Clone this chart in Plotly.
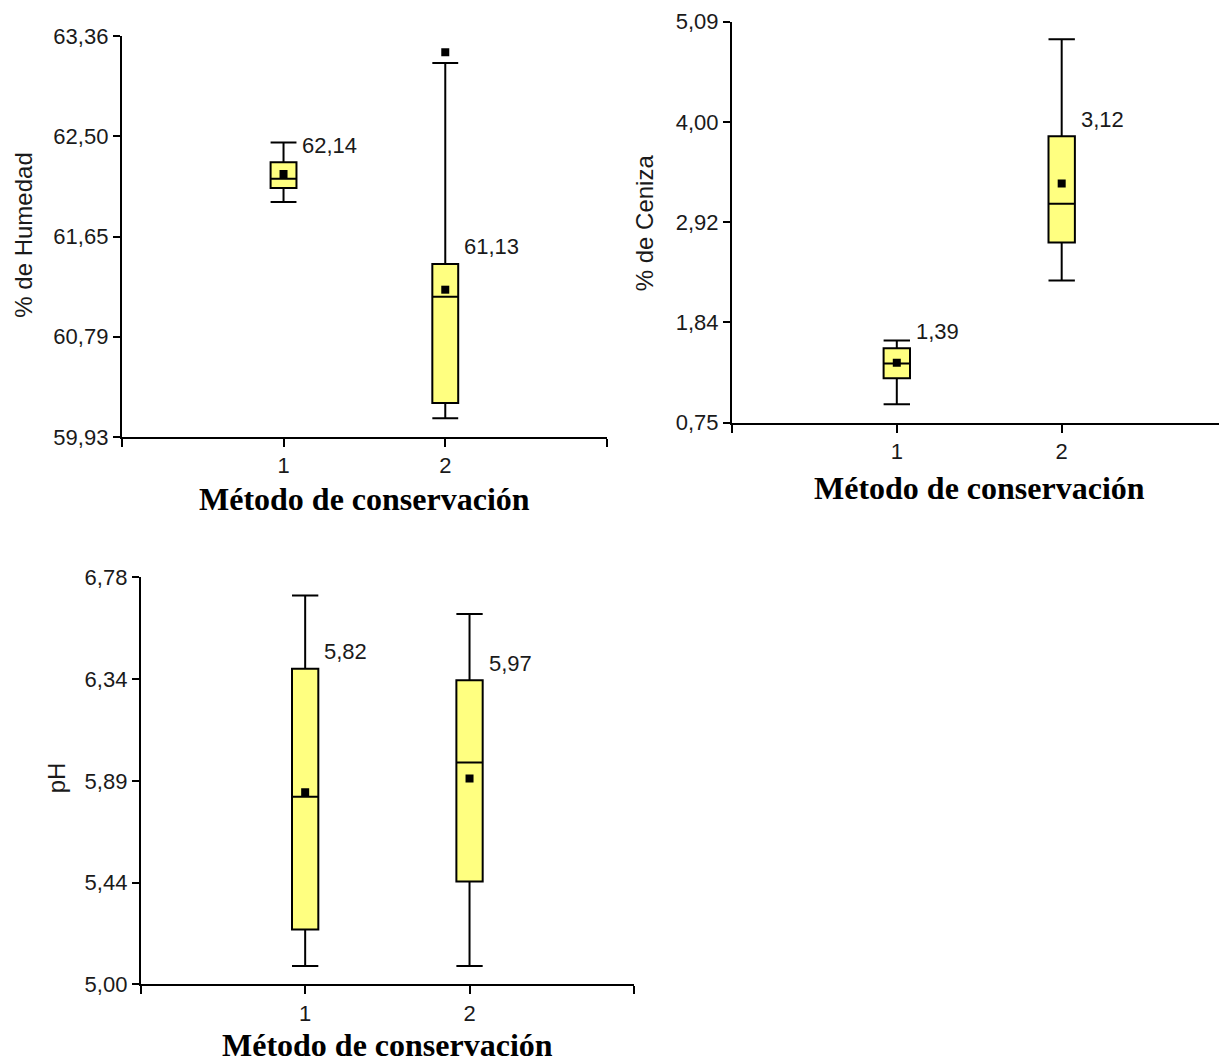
import plotly.graph_objects as go

W, H = 1219, 1063

categories = [1, 2]

# % de Humedad
hum_q1 = [62.06, 60.22]
hum_median = [62.14, 61.13]
hum_q3 = [62.28, 61.41]
hum_low = [61.94, 60.09]
hum_high = [62.45, 63.13]
hum_mean = [62.18, 61.19]
hum_outlier_x = [2]
hum_outlier_y = [63.22]
hum_ticks = ["59,93", "60,79", "61,65", "62,50", "63,36"]

# % de Ceniza
cen_q1 = [1.23, 2.70]
cen_median = [1.39, 3.12]
cen_q3 = [1.555, 3.85]
cen_low = [0.95, 2.29]
cen_high = [1.64, 4.90]
cen_mean = [1.40, 3.34]
cen_ticks = ["0,75", "1,84", "2,92", "4,00", "5,09"]

# pH
ph_q1 = [5.24, 5.45]
ph_median = [5.82, 5.97]
ph_q3 = [6.38, 6.33]
ph_low = [5.08, 5.08]
ph_high = [6.70, 6.62]
ph_mean = [5.84, 5.90]
ph_ticks = ["5,00", "5,44", "5,89", "6,34", "6,78"]

x_title = "Método de conservación"
y_titles = ["% de Humedad", "% de Ceniza", "pH"]

FILL = "#FFFF80"
SANS = "Liberation Sans, Arial, sans-serif"
SERIF = "Liberation Serif, Times New Roman, serif"
TXT = "#1a1a1a"
BOXW = 0.16

fig = go.Figure()

panels = [
    dict(q1=hum_q1, med=hum_median, q3=hum_q3, lo=hum_low, hi=hum_high, mean=hum_mean,
         ticks=hum_ticks, xa="x", ya="y"),
    dict(q1=cen_q1, med=cen_median, q3=cen_q3, lo=cen_low, hi=cen_high, mean=cen_mean,
         ticks=cen_ticks, xa="x2", ya="y2"),
    dict(q1=ph_q1, med=ph_median, q3=ph_q3, lo=ph_low, hi=ph_high, mean=ph_mean,
         ticks=ph_ticks, xa="x3", ya="y3"),
]

annotations = []
for p in panels:
    fig.add_trace(go.Box(
        x=categories, q1=p["q1"], median=p["med"], q3=p["q3"],
        lowerfence=p["lo"], upperfence=p["hi"],
        fillcolor=FILL, line=dict(color="black", width=2),
        whiskerwidth=1, width=BOXW, boxpoints=False,
        xaxis=p["xa"], yaxis=p["ya"], showlegend=False, hoverinfo="skip"))
    fig.add_trace(go.Scatter(
        x=categories, y=p["mean"], mode="markers",
        marker=dict(symbol="square", size=8, color="black"),
        xaxis=p["xa"], yaxis=p["ya"], showlegend=False, hoverinfo="skip"))
    for c, m, q in zip(categories, p["med"], p["q3"]):
        annotations.append(dict(
            x=c + BOXW / 2, y=q, xref=p["xa"], yref=p["ya"],
            text=f"{m:.2f}".replace(".", ","), showarrow=False,
            xanchor="left", yanchor="middle", xshift=4, yshift=17,
            font=dict(family=SANS, size=22, color=TXT)))

fig.add_trace(go.Scatter(
    x=hum_outlier_x, y=hum_outlier_y, mode="markers",
    marker=dict(symbol="square", size=8, color="black"),
    xaxis="x", yaxis="y", showlegend=False, hoverinfo="skip"))


def px_x(a, b):
    return [a / W, b / W]


def px_y(top, bottom):
    return [1 - bottom / H, 1 - top / H]


def yvals(ticks):
    lo = float(ticks[0].replace(",", "."))
    hi = float(ticks[-1].replace(",", "."))
    step = (hi - lo) / (len(ticks) - 1)
    return [lo + i * step for i in range(len(ticks))], [lo, hi]


axis_common = dict(showline=True, linecolor="black", linewidth=2, ticks="outside",
                   ticklen=7, tickwidth=2, tickcolor="black", showgrid=False,
                   zeroline=False, automargin=False,
                   tickfont=dict(family=SANS, size=22, color=TXT))

layout = dict(width=W, height=H, autosize=False, margin=dict(l=0, r=0, t=0, b=0, pad=0),
              plot_bgcolor="white", paper_bgcolor="white", showlegend=False)

domains = [
    (px_x(121.8, 607), px_y(36, 437), [0, 3]),
    (px_x(731.9, 1219), px_y(21.7, 422.7), [0, 2.954]),
    (px_x(140.8, 633.9), px_y(577.3, 984.3), [0, 3]),
]

for i, (p, (dx, dy, xr)) in enumerate(zip(panels, domains)):
    sfx = "" if i == 0 else str(i + 1)
    tv, yr = yvals(p["ticks"])
    layout["xaxis" + sfx] = dict(axis_common, domain=dx, range=xr, anchor="y" + sfx,
                                 tickvals=[0, 1, 2, 3], ticktext=["", "1", "2", ""],
                                 ticklen=8)
    layout["yaxis" + sfx] = dict(axis_common, domain=dy, range=yr, anchor="x" + sfx,
                                 tickvals=tv, ticktext=p["ticks"])

# x axis titles (box height fixed so the text stays on the page)
for xa, ypx in [("x", 499), ("x2", 488.3), ("x3", 1045)]:
    annotations.append(dict(x=1.5, y=1 - ypx / H, xref=xa, yref="paper",
                            text="<b>" + x_title + "</b>", height=26,
                            showarrow=False, xanchor="center", yanchor="middle",
                            font=dict(family=SERIF, size=32, color="black")))

# y axis titles
for t, xpx, ypx in zip(y_titles, [22.7, 644.8, 56.3], [235, 222.5, 778]):
    annotations.append(dict(x=xpx / W, y=1 - ypx / H, xref="paper", yref="paper", text=t,
                            showarrow=False, textangle=-90, xanchor="center",
                            yanchor="middle", font=dict(family=SANS, size=24, color=TXT)))

layout["annotations"] = annotations
fig.update_layout(**layout)
fig.write_html(
    "out.html",
    config={"displayModeBar": False, "staticPlot": True},
    post_script=(
        "document.documentElement.style.overflow='hidden';"
        "document.body.style.margin='0';"
        "var d=document.getElementById('{plot_id}');"
        "d.style.position='fixed';d.style.top='0px';d.style.left='0px';"
    ),
)
